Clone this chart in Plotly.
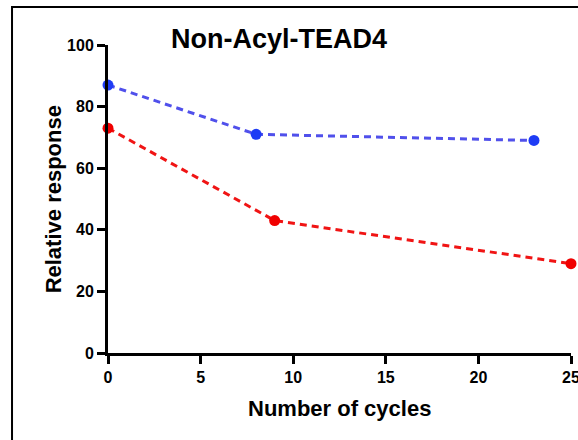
import plotly.graph_objects as go

blue_x = [0, 8, 23]
blue_y = [87, 71, 69]
red_x = [0, 9, 25]
red_y = [73, 43, 29]
x_ticks = [0, 5, 10, 15, 20, 25]
y_ticks = [0, 20, 40, 60, 80, 100]

fig = go.Figure()
fig.add_trace(go.Scatter(x=blue_x, y=blue_y, mode="lines+markers",
                         line=dict(color="rgb(80,80,235)", width=3, dash="7px,5px"),
                         marker=dict(color="rgb(30,60,245)", size=11),
                         cliponaxis=False, showlegend=False))
fig.add_trace(go.Scatter(x=red_x, y=red_y, mode="lines+markers",
                         line=dict(color="rgb(240,20,20)", width=3, dash="7px,5px"),
                         marker=dict(color="rgb(240,0,0)", size=11),
                         cliponaxis=False, showlegend=False))

font_b = "Liberation Sans, Arial, sans-serif"
fig.update_layout(
    width=578, height=440,
    margin=dict(l=108, r=7, t=45, b=87, autoexpand=False),
    paper_bgcolor="white", plot_bgcolor="white",
    xaxis=dict(range=[0, 25], tickvals=x_ticks, showgrid=False, zeroline=False,
               showline=True, linecolor="black", linewidth=3, automargin=False,
               ticks="outside", ticklen=8, tickwidth=3, tickcolor="black",
               ticklabeloverflow="allow",
               tickfont=dict(family=font_b, size=16, color="black", weight="bold")),
    yaxis=dict(range=[0, 100], tickvals=y_ticks, showgrid=False, zeroline=False,
               showline=True, linecolor="black", linewidth=3, automargin=False,
               ticks="outside", ticklen=8, tickwidth=3, tickcolor="black",
               tickfont=dict(family=font_b, size=16, color="black", weight="bold")),
    annotations=[
        dict(text="<b>Non-Acyl-TEAD4</b>", xref="paper", yref="paper", x=0.369, y=1.02,
             xanchor="center", yanchor="middle", showarrow=False,
             font=dict(family=font_b, size=27, color="black")),
        dict(text="<b>Relative response</b>", xref="paper", yref="paper", x=-0.118, y=0.5,
             xanchor="center", yanchor="middle", showarrow=False, textangle=-90,
             font=dict(family=font_b, size=22, color="black")),
        dict(text="<b>Number of cycles</b>", xref="paper", yref="paper", x=0.501, y=-0.1786,
             xanchor="center", yanchor="middle", showarrow=False,
             font=dict(family=font_b, size=22, color="black")),
    ],
    shapes=[
        dict(type="rect", xref="paper", yref="paper", x0=-0.2073, x1=1.2, y0=-0.4, y1=1.1234,
             line=dict(color="black", width=2), fillcolor="rgba(0,0,0,0)", layer="above"),
    ],
)

fig.write_html("out.html", config={"displayModeBar": False},
               post_script="document.body.style.margin='0';document.body.style.overflow='hidden';")
